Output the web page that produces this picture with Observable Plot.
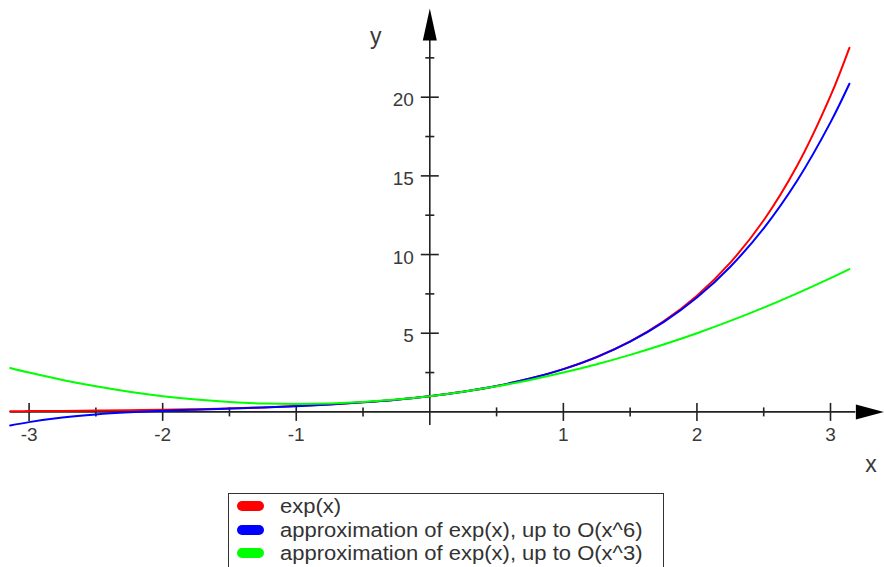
<!DOCTYPE html>
<html><head><meta charset="utf-8">
<script src="https://cdn.jsdelivr.net/npm/d3@7"></script>
<script src="https://cdn.jsdelivr.net/npm/@observablehq/plot@0.6"></script>
<style>
body{margin:0;background:#fff;font-family:"Liberation Sans",Arial,sans-serif;width:884px;height:567px;overflow:hidden;}
#chart svg{display:block;}
#legend{margin-left:228px;width:436px;box-sizing:border-box;border:1.5px solid #333;border-bottom:none;height:74px;padding-top:0;}
.row{display:flex;align-items:center;height:23.7px;}
.sw{display:inline-block;width:27px;height:10px;border-radius:5px;margin-left:7.5px;}
.lb{display:inline-block;margin-left:16px;font-size:20px;color:#333;transform:scaleX(1.1);transform-origin:left center;white-space:nowrap;line-height:20px;}
</style></head><body>
<div id="chart"></div>
<div id="legend"></div>
<script>
// sample positions along x (from -pi to pi)
const xs = [-3.1416, -3, -2.75, -2.5, -2.25, -2, -1.75, -1.5, -1.25, -1, -0.75, -0.5, -0.25, 0,
  0.25, 0.5, 0.75, 1, 1.25, 1.5, 1.75, 2, 2.25, 2.5, 2.75, 3, 3.1416];
// exp(x)
const expValues = [0.0432, 0.0498, 0.0639, 0.0821, 0.1054, 0.1353, 0.1738, 0.2231, 0.2865, 0.3679, 0.4724, 0.6065, 0.7788, 1,
  1.2840, 1.6487, 2.1170, 2.7183, 3.4903, 4.4817, 5.7546, 7.3891, 9.4877, 12.1825, 15.6426, 20.0855, 23.1407];
// approximation up to O(x^6)
const approx6Values = [-0.866, -0.65, -0.3626, -0.1654, -0.0298, 0.0667, 0.1420, 0.2101, 0.2820, 0.3667, 0.4721, 0.6065, 0.7788, 1,
  1.2840, 1.6487, 2.1167, 2.7167, 3.4839, 4.4617, 5.7021, 7.2667, 9.2281, 11.6706, 14.6911, 18.4, 20.853];
// approximation up to O(x^3)
const approx3Values = [2.7932, 2.5, 2.03125, 1.625, 1.28125, 1, 0.78125, 0.625, 0.53125, 0.5, 0.53125, 0.625, 0.78125, 1,
  1.28125, 1.625, 2.03125, 2.5, 3.03125, 3.625, 4.28125, 5, 5.78125, 6.625, 7.53125, 8.5, 9.0764];

const seriesNames = ["exp(x)", "approximation of exp(x), up to O(x^6)", "approximation of exp(x), up to O(x^3)"];
const seriesColors = ["#ff0000", "#0000ff", "#00ff00"];

const xTickValues = [-3, -2, -1, 1, 2, 3];
const xTickLabels = ["-3", "-2", "-1", "1", "2", "3"];
const xMinorTicks = [-2.5, -1.5, -0.5, 0.5, 1.5, 2.5];
const yTickValues = [5, 10, 15, 20];
const yTickLabels = ["5", "10", "15", "20"];
const yMinorTicks = [2.5, 7.5, 12.5, 17.5, 22.5];

const xAxisEnd = 3.19;   // where the x arrow head starts
const yAxisEnd = 23.6;   // where the y arrow head starts

const allSeries = [expValues, approx6Values, approx3Values];
const table = [];
allSeries.forEach((vals, s) => xs.forEach((x, i) => table.push({series: seriesNames[s], x, y: vals[i]})));

const xMin = d3.min(xs);
const yMin = d3.min(allSeries.flat());

const majorTick = {draw(c){ c.moveTo(0, -9); c.lineTo(0, 9); }};
const minorTick = {draw(c){ c.moveTo(0, -4.5); c.lineTo(0, 4.5); }};
const arrowHeadY = {draw(c){ c.moveTo(-7, 0); c.lineTo(7, 0); c.lineTo(0, -32); c.closePath(); }};
const arrowHeadX = {draw(c){ c.moveTo(-7.5, 0); c.lineTo(7.5, 0); c.lineTo(0, -28); c.closePath(); }};

const axisColor = "#222";
const textColor = "#3a3a3a";

const plot = Plot.plot({
  width: 884,
  height: 493,
  marginTop: 0, marginBottom: 0, marginLeft: 0, marginRight: 0,
  style: {fontFamily: "'Liberation Sans', Arial, sans-serif", background: "#fff"},
  x: {domain: [0, 3], range: [429.3, 830], axis: null},
  y: {domain: [0, 20], range: [411.4, 96.7], axis: null},
  marks: [
    // axes lines
    Plot.ruleY([0], {x1: xMin, x2: xAxisEnd, stroke: axisColor, strokeWidth: 1.6}),
    Plot.ruleX([0], {y1: yMin, y2: yAxisEnd, stroke: axisColor, strokeWidth: 1.6}),
    // ticks
    Plot.dot(xTickValues, {x: d => d, y: () => 0, symbol: majorTick, stroke: axisColor, strokeWidth: 1.6, fill: "none"}),
    Plot.dot(xMinorTicks, {x: d => d, y: () => 0, symbol: minorTick, stroke: axisColor, strokeWidth: 1.6, fill: "none"}),
    Plot.dot(yTickValues, {x: () => 0, y: d => d, symbol: majorTick, rotate: 90, stroke: axisColor, strokeWidth: 1.6, fill: "none"}),
    Plot.dot(yMinorTicks, {x: () => 0, y: d => d, symbol: minorTick, rotate: 90, stroke: axisColor, strokeWidth: 1.6, fill: "none"}),
    // arrow heads
    Plot.dot([0], {x: () => 0, y: () => yAxisEnd, symbol: arrowHeadY, fill: "#000", stroke: "none"}),
    Plot.dot([0], {x: () => xAxisEnd, y: () => 0, symbol: arrowHeadX, rotate: 90, fill: "#000", stroke: "none"}),
    // tick labels
    Plot.text(xTickValues, {x: d => d, y: () => 0, text: (d, i) => xTickLabels[i], dy: 23, fontSize: 19, fill: textColor}),
    Plot.text(yTickValues, {x: () => 0, y: d => d, text: (d, i) => yTickLabels[i], dx: -16, dy: 3, textAnchor: "end", fontSize: 19, fill: textColor}),
    // axis titles
    Plot.text(["y"], {x: () => 0, y: () => yAxisEnd, text: d => d, dx: -54, dy: -4, fontSize: 23, fill: textColor}),
    Plot.text(["x"], {x: () => xAxisEnd, y: () => 0, text: d => d, dx: 15, dy: 53, fontSize: 23, fill: textColor}),
    // curves
    Plot.line(table, {x: "x", y: "y", z: "series", stroke: d => seriesColors[seriesNames.indexOf(d.series)], strokeWidth: 2, curve: "catmull-rom"})
  ]
});
document.getElementById("chart").appendChild(plot);

const legend = document.getElementById("legend");
seriesNames.forEach((name, i) => {
  const row = document.createElement("div");
  row.className = "row";
  const sw = document.createElement("span");
  sw.className = "sw";
  sw.style.background = seriesColors[i];
  const lb = document.createElement("span");
  lb.className = "lb";
  lb.textContent = name;
  row.appendChild(sw); row.appendChild(lb);
  legend.appendChild(row);
});
</script>
</body></html>
